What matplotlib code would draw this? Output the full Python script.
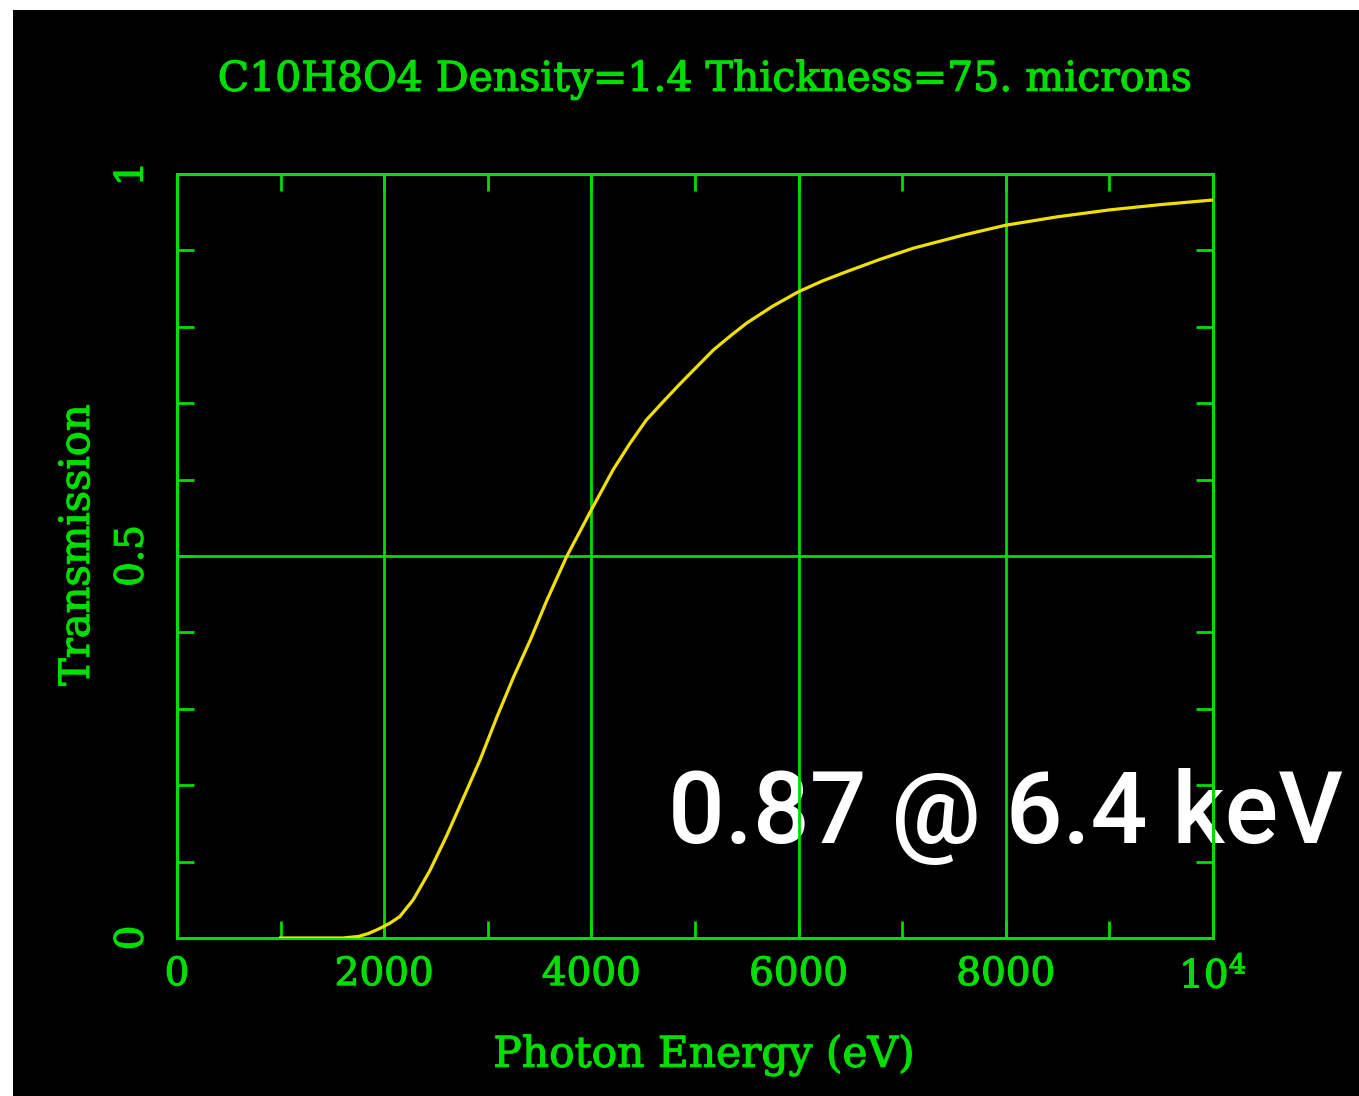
import numpy as np
import matplotlib
matplotlib.use("Agg")
import matplotlib.pyplot as plt
from matplotlib.patches import Rectangle
import matplotlib.patheffects as pe

# transmission curve
energy = [1000, 1600, 1750, 1850, 1950, 2050, 2150, 2280, 2440, 2600, 2760,
          2925, 3090, 3250, 3410, 3570, 3760, 3990, 4210, 4370, 4530, 4700,
          4860, 5020, 5180, 5350, 5500, 5750, 6000, 6230, 6460, 6780, 7110,
          7590, 8000, 8500, 9000, 9500, 10000]
trans = [0.0, 0.0, 0.002, 0.006, 0.012, 0.019, 0.028, 0.05, 0.088, 0.133, 0.182,
         0.233, 0.29, 0.342, 0.39, 0.442, 0.499, 0.558, 0.613, 0.647, 0.678, 0.703,
         0.726, 0.748, 0.770, 0.789, 0.805, 0.827, 0.846, 0.860, 0.872, 0.888, 0.903,
         0.920, 0.933, 0.944, 0.953, 0.960, 0.966]

x_ticks = [0, 2000, 4000, 6000, 8000, 10000]
x_labels = ["0", "2000", "4000", "6000", "8000", r"$10^4$"]
y_ticks = [0, 0.5, 1]
y_labels = ["0", "0.5", "1"]

title = "C10H8O4 Density=1.4 Thickness=75. microns"
note = "0.87 @ 6.4 keV"

green = "#00dd00"
yellow = "#f0e000"
W, H = 1359, 1096

plt.rcParams["mathtext.fontset"] = "dejavuserif"
font = "DejaVu Serif"
# pgplot strokes are a bit heavier than the ttf glyphs
bold = [pe.withStroke(linewidth=0.9, foreground=green)]

fig = plt.figure(figsize=(W / 100, H / 100), dpi=100, facecolor="white")
# black screen area with a thin white margin at left and top
fig.add_artist(Rectangle((13 / W, 0), 1 - 13 / W, 1 - 10 / H,
                         transform=fig.transFigure, facecolor="black",
                         edgecolor="none", zorder=-1))

ax = fig.add_axes([177 / W, 1 - 938 / H, (1213 - 177) / W, (938 - 174) / H])
ax.set_facecolor("black")
ax.plot(energy, trans, color=yellow, lw=2.3, zorder=3)

ax.set_xlim(0, 10000)
ax.set_ylim(0, 1)
ax.set_xticks(x_ticks)
ax.set_xticklabels(x_labels, family=font, fontsize=28, color=green)
ax.set_xticks(np.arange(1000, 10000, 2000), minor=True)
ax.set_yticks(y_ticks)
ax.set_yticklabels(y_labels, family=font, fontsize=28, color=green,
                   rotation=90, va="center")
ax.set_yticks(np.arange(0.1, 1.0, 0.1), minor=True)
for t in ax.get_xticklabels() + ax.get_yticklabels():
    t.set_path_effects(bold)

ax.tick_params(which="both", direction="in", length=12, width=2,
               color=green, top=True, right=True)
ax.tick_params(axis="x", pad=13)
ax.tick_params(axis="y", pad=19)

for s in ax.spines.values():
    s.set_color(green)
    s.set_linewidth(2.2)
    s.set_zorder(2.5)

for xv in [2000, 4000, 6000, 8000]:
    ax.axvline(xv, color=green, lw=2, zorder=2)
ax.axhline(0.5, color=green, lw=2, zorder=2)

fig.text(705 / W, 1 - 80 / H, title, family=font, fontsize=29.5,
         color=green, ha="center", va="center", path_effects=bold)
fig.text(704 / W, 1 - 1055 / H, "Photon Energy (eV)", family=font,
         fontsize=30.5, color=green, ha="center", va="center", path_effects=bold)
fig.text(77 / W, 1 - 545 / H, "Transmission", family=font, fontsize=30,
         color=green, ha="center", va="center", rotation=90, path_effects=bold)

# overlaid note sits under the grid lines
ax.text(668 / W, 1 - 843 / H, note, family="Roboto", fontweight="medium",
        fontsize=72, color="white", ha="left", va="baseline", zorder=1.5,
        transform=fig.transFigure, clip_on=False)

fig.savefig("out.png", dpi=100, facecolor="white")
